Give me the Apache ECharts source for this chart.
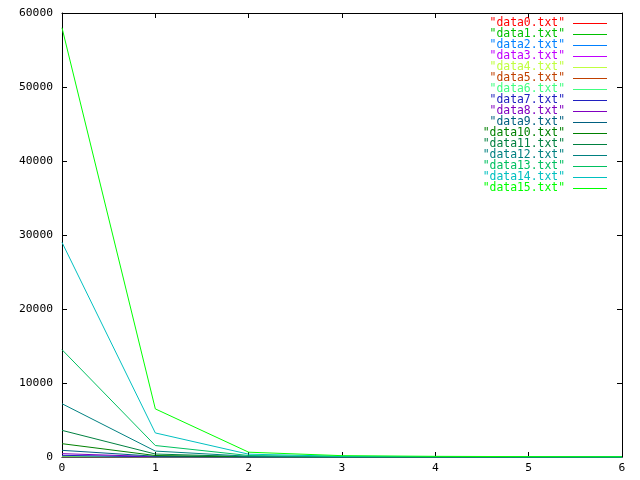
<!DOCTYPE html>
<html>
<head>
<meta charset="utf-8">
<script src="https://cdn.jsdelivr.net/npm/echarts@6/dist/echarts.min.js"></script>
<style>html,body{margin:0;padding:0;background:#fff;}#c{width:640px;height:480px;}</style>
</head>
<body>
<div id="c"></div>
<script>
var xValues = [0, 1, 2, 3, 4, 5, 6];
var seriesNames = ['"data0.txt"','"data1.txt"','"data2.txt"','"data3.txt"','"data4.txt"','"data5.txt"','"data6.txt"','"data7.txt"','"data8.txt"','"data9.txt"','"data10.txt"','"data11.txt"','"data12.txt"','"data13.txt"','"data14.txt"','"data15.txt"'];
var seriesColors = ['#ff0000','#00c000','#0080ff','#c000ff','#c0ff40','#c04000','#40ff80','#2020c0','#8000c0','#006080','#008000','#008040','#008080','#00c060','#00c0c0','#00ff00'];
var data0 = [2, 0.3, 0.05, 0, 0, 0, 0];
var data1 = [4, 0.5, 0.1, 0, 0, 0, 0];
var data2 = [7, 0.9, 0.1, 0, 0, 0, 0];
var data3 = [14, 1.6, 0.2, 0.05, 0, 0, 0];
var data4 = [28, 3, 0.4, 0.1, 0, 0, 0];
var data5 = [56, 6, 0.8, 0.2, 0.1, 0, 0];
var data6 = [112, 12, 1.5, 0.4, 0.2, 0.1, 0];
var data7 = [225, 25, 3, 0.8, 0.4, 0.2, 0.1];
var data8 = [450, 50, 6, 1.5, 0.8, 0.4, 0.2];
var data9 = [900, 100, 12, 3, 1.5, 0.8, 0.4];
var data10 = [1800, 200, 25, 6, 3, 1.5, 0.8];
var data11 = [3600, 400, 50, 12, 6, 3, 1.5];
var data12 = [7200, 800, 100, 25, 12, 6, 3];
var data13 = [14500, 1550, 200, 50, 25, 12, 6];
var data14 = [29000, 3250, 380, 100, 50, 25, 12];
var data15 = [58000, 6500, 650, 180, 90, 50, 25];
var allData = [data0,data1,data2,data3,data4,data5,data6,data7,data8,data9,data10,data11,data12,data13,data14,data15];
var yTicks = [0, 10000, 20000, 30000, 40000, 50000, 60000];

var font = '"DejaVu Sans Mono", "Liberation Mono", monospace';
var chart = echarts.init(document.getElementById('c'), null, {renderer: 'canvas'});
var series = allData.map(function (vals, i) {
  return {
    name: seriesNames[i],
    type: 'line',
    symbol: 'none',
    animation: false,
    data: vals.map(function (v, j) { return [xValues[j], v]; }),
    lineStyle: {color: seriesColors[i], width: 1},
    itemStyle: {color: seriesColors[i]}
  };
});
var axisCommon = {
  axisLine: {show: true, onZero: false, lineStyle: {color: '#000', width: 1}},
  axisTick: {show: true, inside: true, length: 5, lineStyle: {color: '#000'}},
  splitLine: {show: false}
};
function plain(v) { return String(v); }
chart.setOption({
  animation: false,
  backgroundColor: '#fff',
  grid: {left: 62, right: 18, top: 13, bottom: 23, containLabel: false},
  legend: {
    orient: 'vertical',
    right: 33,
    top: 18,
    padding: 0,
    align: 'right',
    icon: 'rect',
    itemWidth: 34,
    itemHeight: 1,
    itemGap: 0,
    textStyle: {fontFamily: font, fontSize: 11.4, lineHeight: 11, padding: [0, 3, 0, 0]},
    data: seriesNames.map(function (n, i) {
      return {name: n, textStyle: {color: seriesColors[i]}};
    })
  },
  xAxis: [
    Object.assign({type: 'value', min: 0, max: 6, interval: 1, position: 'bottom',
      axisLabel: {color: '#000', fontFamily: font, fontSize: 11.3, margin: 6, formatter: plain}}, axisCommon),
    Object.assign({type: 'value', min: 0, max: 6, interval: 1, position: 'top',
      axisLabel: {show: false}}, axisCommon)
  ],
  yAxis: [
    Object.assign({type: 'value', min: yTicks[0], max: yTicks[yTicks.length - 1], interval: 10000, position: 'left',
      axisLabel: {color: '#000', fontFamily: font, fontSize: 11.3, margin: 9, formatter: plain}}, axisCommon),
    Object.assign({type: 'value', min: yTicks[0], max: yTicks[yTicks.length - 1], interval: 10000, position: 'right',
      axisLabel: {show: false}}, axisCommon)
  ],
  series: series
});
</script>
</body>
</html>
